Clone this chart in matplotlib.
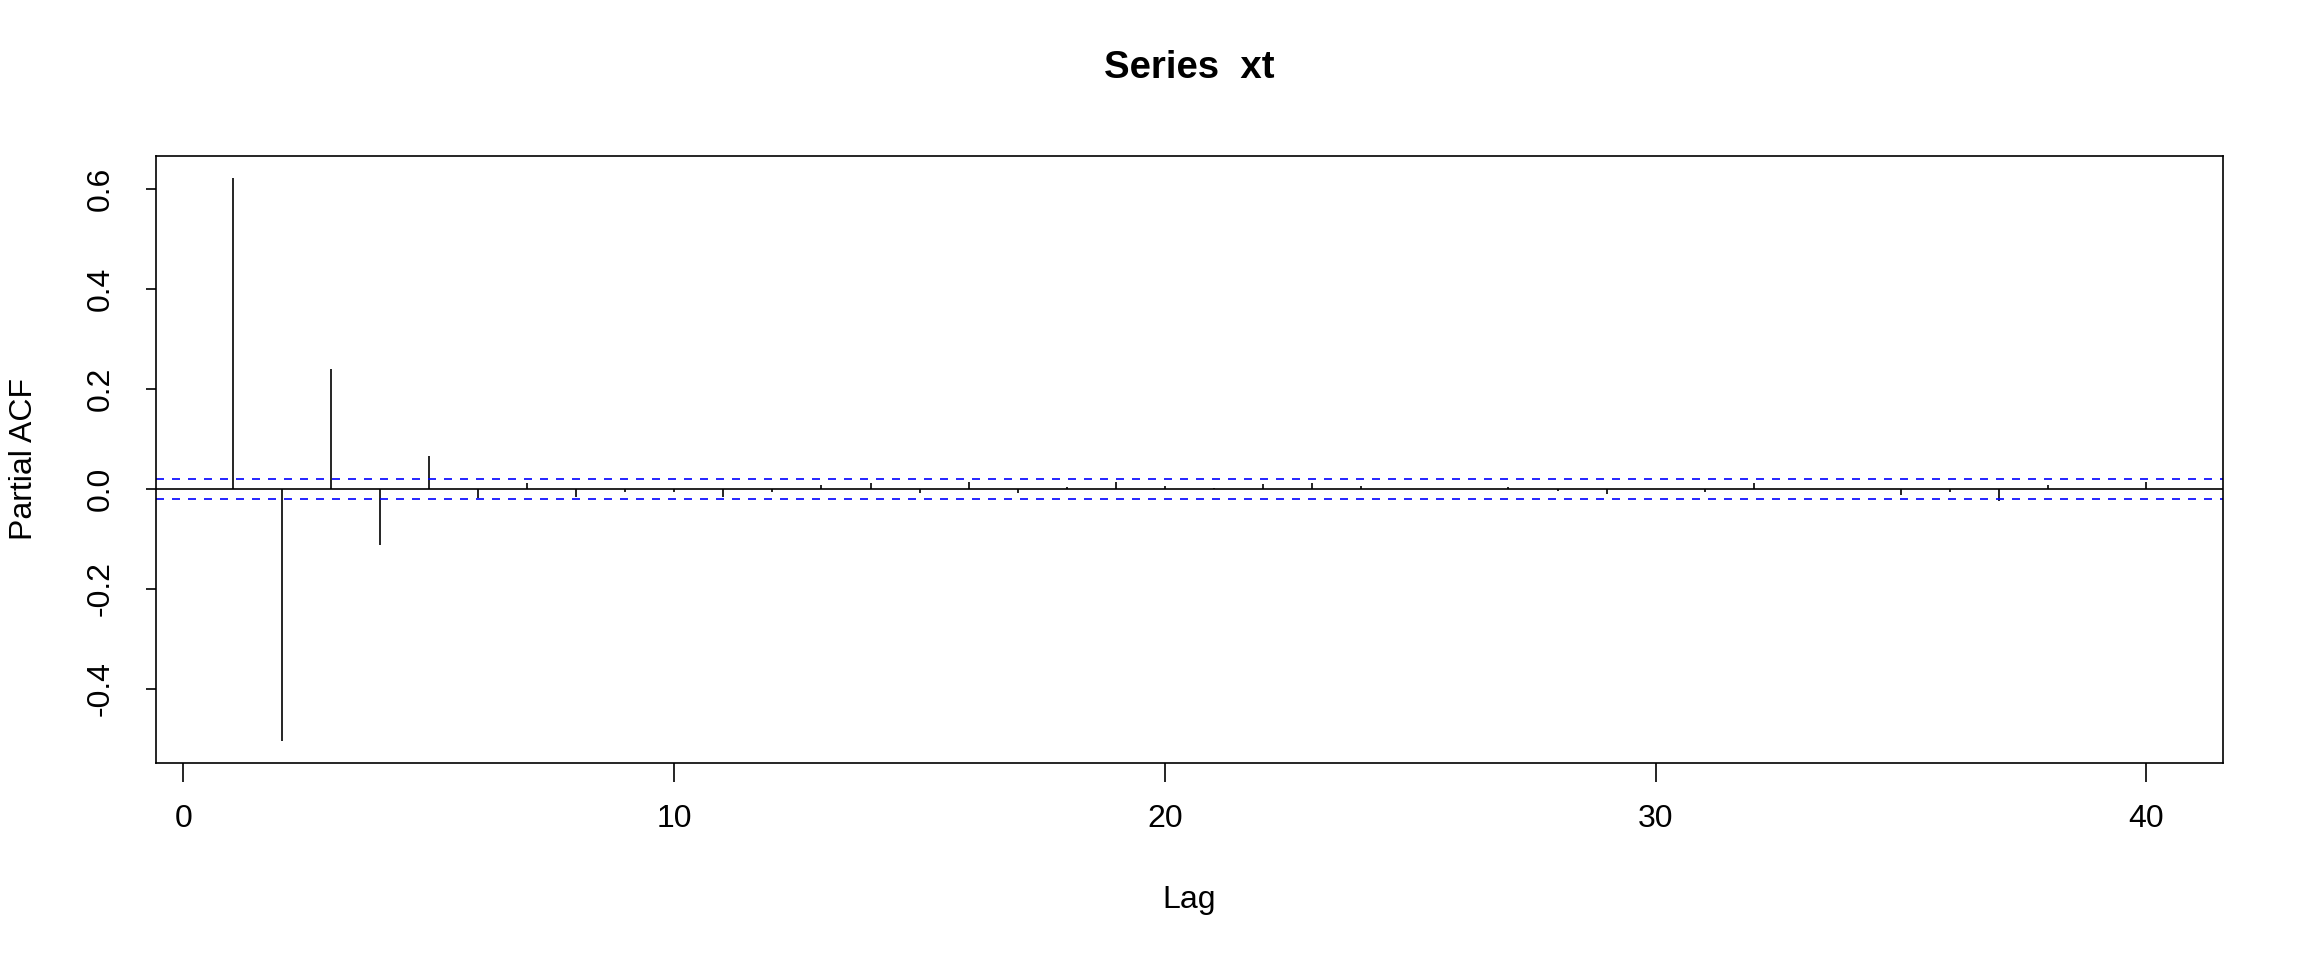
import matplotlib
matplotlib.use('Agg')
import matplotlib.pyplot as plt

plt.rcParams['font.family'] = ['Liberation Sans', 'DejaVu Sans']

# partial autocorrelations
lags = list(range(1, 41))
pacf = [0.621, -0.504, 0.240, -0.112, 0.065, -0.018, 0.011, -0.017, -0.006, -0.006,
        -0.017, -0.006, 0.007, 0.011, -0.009, 0.013, -0.009, 0.003, 0.013, 0.005,
        0.001, 0.009, 0.011, 0.005, 0.000, 0.000, 0.003, -0.004, -0.010, 0.000,
        -0.006, 0.011, 0.000, 0.000, -0.012, -0.006, -0.024, 0.007, 0.000, 0.013]
ci = 0.0196
x_ticks = [0, 10, 20, 30, 40]
y_ticks = [-0.4, -0.2, 0.0, 0.2, 0.4, 0.6]
y_ticklabels = ['-0.4', '-0.2', '0.0', '0.2', '0.4', '0.6']

W, H = 2304, 960
fig = plt.figure(figsize=(W / 100, H / 100), dpi=100)
ax = fig.add_axes([156 / W, 1 - 763 / H, (2223 - 156) / W, (763 - 156) / H])

lw = 1.2
ax.vlines(lags, 0, pacf, color='black', lw=lw)
ax.axhline(0, color='black', lw=lw)
for c in (ci, -ci):
    ax.axhline(c, color='blue', lw=lw, linestyle=(0, (4.8, 4.8)))

ax.set_xlim(-0.56, 41.56)
ax.set_ylim(-0.549, 0.666)

ax.set_xticks(x_ticks)
ax.set_yticks(y_ticks)
ax.set_yticklabels(y_ticklabels, rotation=90, va='center')
ax.tick_params(axis='x', length=13.7, width=lw, pad=16, labelsize=23)
ax.tick_params(axis='y', length=7.2, width=lw, pad=22, labelsize=23)
for s in ax.spines.values():
    s.set_linewidth(lw)

fig.text(1189.5 / W, 1 - 68 / H, 'Series  xt', ha='center', va='center',
         fontsize=27.6, fontweight='bold')
fig.text(1189.5 / W, 1 - 900 / H, 'Lag', ha='center', va='center', fontsize=23)
fig.text(24 / W, 1 - 459 / H, 'Partial ACF', ha='center', va='center',
         rotation=90, fontsize=23)

fig.savefig('out.png', dpi=100)
